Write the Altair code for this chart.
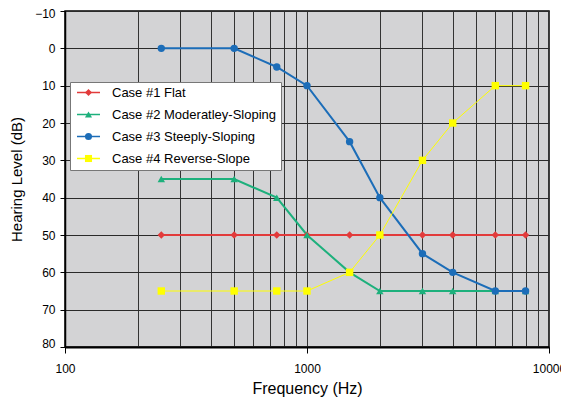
import altair as alt
import pandas as pd

freqs = [250, 500, 750, 1000, 1500, 2000, 3000, 4000, 6000, 8000]
series_names = ["Case #1 Flat", "Case #2 Moderatley-Sloping",
                "Case #3 Steeply-Sloping", "Case #4 Reverse-Slope"]
case1 = [50, 50, 50, 50, 50, 50, 50, 50, 50, 50]
case2 = [35, 35, 40, 50, 60, 65, 65, 65, 65, 65]
case3 = [0, 0, 5, 10, 25, 40, 55, 60, 65, 65]
case4 = [65, 65, 65, 65, 60, 50, 30, 20, 10, 10]
colors = ["#e23b3b", "#1db07c", "#1c6db8", "#ffff00"]
markers = ["diamond", "triangle-up", "circle", "square"]
x_major = [100, 1000, 10000]
x_grid = [200, 300, 400, 500, 600, 700, 800, 900, 1000,
          2000, 3000, 4000, 5000, 6000, 7000, 8000, 9000]
y_ticks = [-10, 0, 10, 20, 30, 40, 50, 60, 70, 80]

rows = []
for name, vals in zip(series_names, [case1, case2, case3, case4]):
    for f, v in zip(freqs, vals):
        rows.append({"freq": f, "level": v, "series": name, "series_m": name})
df = pd.DataFrame(rows)

FONT = "Liberation Sans"
xscale = alt.Scale(type="log", domain=[100, 10000], nice=False)
yscale = alt.Scale(domain=[-10, 80], reverse=True, nice=False, zero=False)
yaxis = alt.Axis(values=y_ticks, title="Hearing Level (dB)", grid=True,
                 gridColor="#2a2a2a", gridWidth=1, gridOpacity=1,
                 tickSize=5, tickColor="black", labelPadding=5,
                 labelFlush=True, labelFlushOffset=3,
                 labelFontSize=12, labelFont=FONT, labelColor="black",
                 titleFont=FONT, titleFontSize=15, titleFontWeight="normal",
                 titleColor="black", titlePadding=10,
                 domainColor="black", domainWidth=1.5)

# boxed legend with labels and marker symbols
legend_marks = alt.Legend(
    orient="none", legendX=5, legendY=71, title=None,
    fillColor="white", strokeColor="#777777", padding=4,
    symbolSize=50, symbolStrokeWidth=0, symbolOffset=8,
    labelFont=FONT, labelFontSize=13, labelColor="black", labelLimit=400,
    labelOffset=17, rowPadding=8, zindex=1,
)
# line swatches laid over the boxed legend
legend_lines = alt.Legend(
    orient="none", legendX=11, legendY=69, title=None,
    padding=0, symbolType="stroke", symbolSize=529, symbolStrokeWidth=1.5,
    labelFont=FONT, labelFontSize=13, labelColor="black", labelLimit=400,
    labelOpacity=0, labelOffset=4, rowPadding=2, zindex=2,
)

lines = alt.Chart(df).mark_line().encode(
    x=alt.X("freq:Q", scale=xscale,
            axis=alt.Axis(orient="top", values=x_grid, grid=True,
                          gridColor="#333333", gridWidth=1, gridOpacity=1,
                          labels=False, ticks=False, domain=False, title=None)),
    y=alt.Y("level:Q", scale=yscale, axis=yaxis),
    stroke=alt.Stroke("series:N", scale=alt.Scale(range=colors), legend=legend_lines),
    strokeWidth=alt.condition("datum.series == 'Case #4 Reverse-Slope'",
                              alt.value(1), alt.value(2)),
)

points = alt.Chart(df).mark_point(filled=True, opacity=1, size=55).encode(
    x=alt.X("freq:Q", scale=xscale,
            axis=alt.Axis(orient="bottom", values=x_major, format="d", grid=False,
                          tickSize=6, tickColor="black", labelPadding=10,
                          labelFlush=False,
                          labelFontSize=12, labelFont=FONT, labelColor="black",
                          title="Frequency (Hz)", titleFont=FONT, titleFontSize=16,
                          titleFontWeight="normal", titleColor="black",
                          titlePadding=6, domainColor="black", domainWidth=2)),
    y=alt.Y("level:Q", scale=yscale, axis=yaxis),
    fill=alt.Fill("series_m:N", scale=alt.Scale(range=colors), legend=legend_marks),
    shape=alt.Shape("series_m:N", scale=alt.Scale(range=markers), legend=legend_marks),
)

chart = alt.layer(lines, points).resolve_axis(x="independent").properties(
    width=484, height=336,
    autosize=alt.AutoSizeParams(type="none"),
    padding={"left": 57, "top": 3, "right": 12, "bottom": 50},
    background="white",
).configure_view(fill="#d3d3d5", stroke="black", strokeWidth=1.5)

chart.save("out.html", embed_options={"renderer": "svg", "actions": False})
